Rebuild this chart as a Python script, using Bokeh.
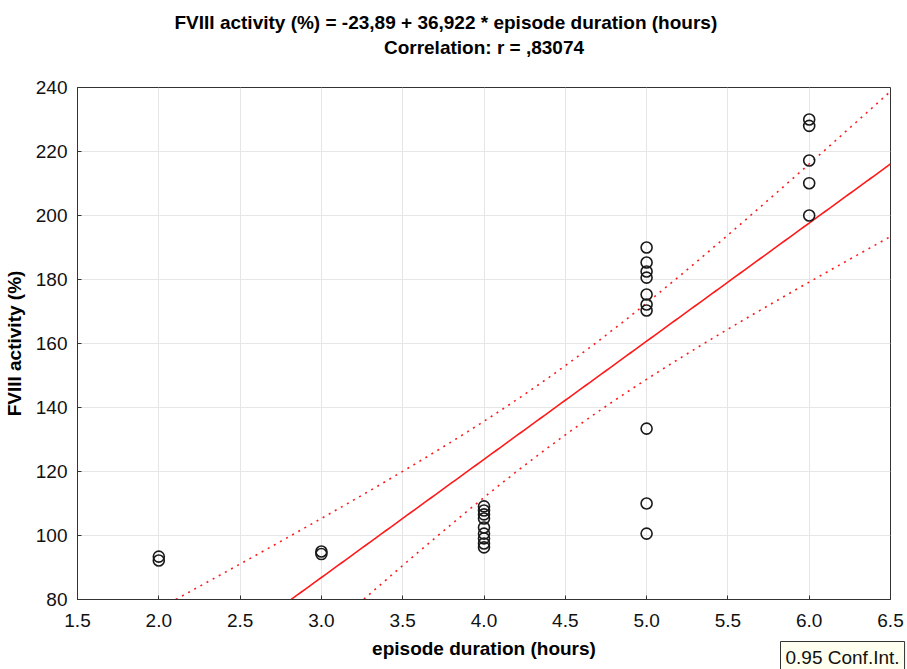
import numpy as np
from bokeh.plotting import figure
from bokeh.models import Range1d, FixedTicker, Title, LinearAxis
from bokeh.embed import file_html
from bokeh.resources import INLINE

# Observations: episode duration (hours) and FVIII activity (%)
duration_h = [2, 2,
              3, 3,
              4, 4, 4, 4, 4, 4, 4, 4, 4,
              5, 5, 5, 5, 5, 5, 5, 5, 5, 5,
              6, 6, 6, 6, 6]
fviii_pct = [93.4, 92.2,
             95.0, 94.2,
             109.1, 107.8, 106.6, 105.3, 102.5, 100.6, 99.1, 97.5, 96.3,
             190.0, 185.3, 182.5, 180.6, 175.3, 172.2, 170.3, 133.4, 110.0, 100.6,
             230.0, 228.0, 217.2, 210.1, 200.0]

# Fitted regression as reported in the heading
intercept = -23.89
slope = 36.922
r_value = ",83074"

x_ticks = [1.5, 2.0, 2.5, 3.0, 3.5, 4.0, 4.5, 5.0, 5.5, 6.0, 6.5]
y_ticks = [80, 100, 120, 140, 160, 180, 200, 220, 240]

FONT = "Liberation Sans"

p = figure(width=907, height=669, output_backend="svg", toolbar_location=None,
           x_range=Range1d(1.5, 6.5), y_range=Range1d(80, 240),
           min_border_left=75, min_border_right=17,
           min_border_top=87, min_border_bottom=70)

p.background_fill_color = "white"
p.border_fill_color = "white"
p.outline_line_color = "#333333"
p.outline_line_width = 1

# grid
p.xgrid.grid_line_color = "#e6e6e6"
p.ygrid.grid_line_color = "#e6e6e6"
p.xgrid.ticker = FixedTicker(ticks=x_ticks)
p.ygrid.ticker = FixedTicker(ticks=y_ticks)

# axes
for ax in (p.xaxis[0], p.yaxis[0]):
    ax.axis_line_color = "#333333"
    ax.major_tick_line_color = "#333333"
    ax.major_tick_in = 4
    ax.major_tick_out = 0
    ax.minor_tick_line_color = None
    ax.major_label_text_font = FONT
    ax.major_label_text_font_size = "19px"
    ax.major_label_text_color = "#111111"
    ax.axis_label_text_font = FONT
    ax.axis_label_text_font_size = "19px"
    ax.axis_label_text_font_style = "bold"
    ax.axis_label_text_color = "black"

p.xaxis.ticker = FixedTicker(ticks=x_ticks)
p.yaxis.ticker = FixedTicker(ticks=y_ticks)
p.xaxis.major_label_overrides = {t: f"{t:.1f}" for t in x_ticks}
p.xaxis.axis_label = "episode duration (hours)"
p.yaxis.axis_label = "FVIII activity (%)"
p.xaxis.major_label_standoff = 14
p.yaxis.major_label_standoff = 10
p.xaxis.axis_label_standoff = 8
p.yaxis.axis_label_standoff = 8

# regression line and 95% confidence band for the mean
x = np.array(duration_h, dtype=float)
y = np.array(fviii_pct, dtype=float)
n = len(x)
resid = y - (intercept + slope * x)
s = np.sqrt(np.sum(resid ** 2) / (n - 2))
xbar = x.mean()
sxx = np.sum((x - xbar) ** 2)
t_crit = 2.056  # t(0.975, n-2)

xs = np.linspace(1.5, 6.5, 201)
fit = intercept + slope * xs
half = t_crit * s * np.sqrt(1.0 / n + (xs - xbar) ** 2 / sxx)

p.line(xs, fit, line_color="#ff1a1a", line_width=1.6)
p.line(xs, fit + half, line_color="#ff1a1a", line_width=1.6, line_dash="2 5")
p.line(xs, fit - half, line_color="#ff1a1a", line_width=1.6, line_dash="2 5")

# observations
p.scatter(duration_h, fviii_pct, marker="circle", size=11, fill_color=None,
          line_color="#1a1a1a", line_width=1.6)

# second heading line: label of a bare axis on top of the frame
top_axis = LinearAxis(axis_label=f"Correlation: r = {r_value}",
                      axis_label_text_font=FONT, axis_label_text_font_size="19px",
                      axis_label_text_font_style="bold", axis_label_text_color="black",
                      axis_label_standoff=30, axis_line_color=None,
                      major_tick_line_color=None, minor_tick_line_color=None,
                      major_label_text_font_size="0px", major_tick_in=0, major_tick_out=0)
top_axis.ticker = FixedTicker(ticks=[])
p.add_layout(top_axis, "above")

# first heading line
p.add_layout(Title(text="FVIII activity (%) = -23,89 + 36,922 * episode duration (hours)",
                   align="left", offset=97,
                   text_font=FONT, text_font_size="19px", text_font_style="bold",
                   text_color="black", standoff=2), "above")

# band legend tag under the x axis, right side
p.add_layout(Title(text="0.95 Conf.Int.", align="left", offset=703,
                   vertical_align="top",
                   text_font=FONT, text_font_size="19px", text_font_style="normal",
                   text_color="#111111", background_fill_color="#fffff0",
                   border_line_color="#333333", border_line_width=1,
                   padding=5, standoff=-40), "below")

with open("out.html", "w") as f:
    f.write(file_html(p, INLINE))
